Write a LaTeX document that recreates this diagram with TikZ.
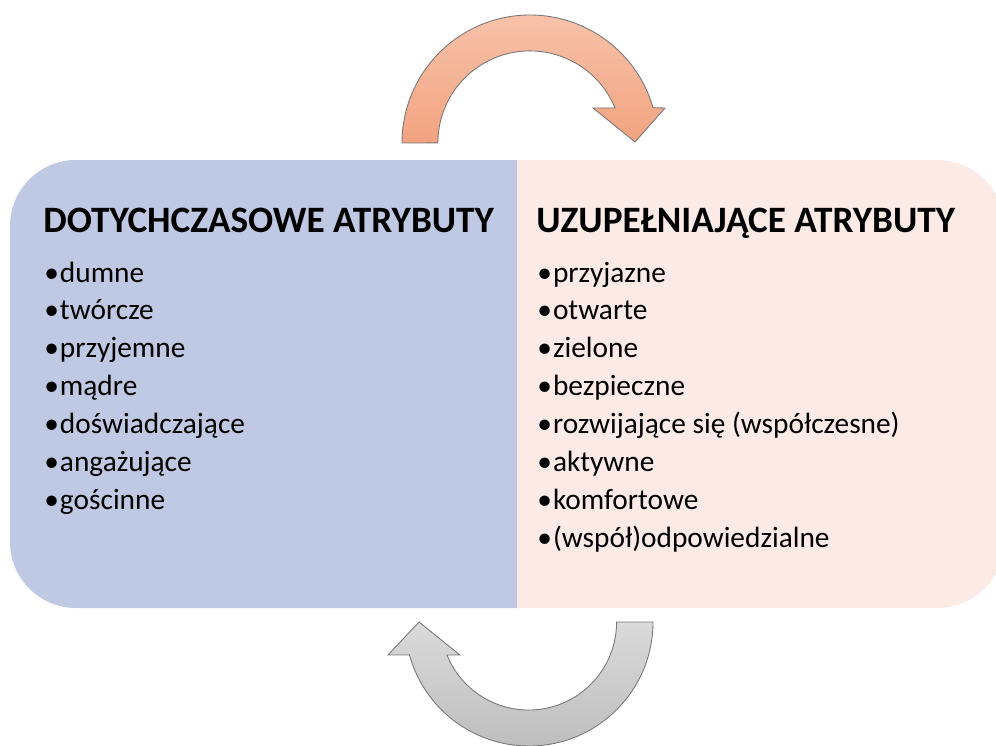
\documentclass[tikz,border=0pt]{standalone}
\usepackage{fontspec}
\setmainfont{Carlito}
\usetikzlibrary{positioning}
\definecolor{leftfill}{RGB}{191,201,228}
\definecolor{rightfill}{RGB}{251,234,230}
\definecolor{arrowtop}{RGB}{247,194,170}
\definecolor{arrowbot}{RGB}{242,163,128}
\definecolor{greytop}{RGB}{218,218,218}
\definecolor{greybot}{RGB}{190,190,190}
\definecolor{edgegrey}{RGB}{120,120,120}

\newcommand{\bul}{•\kern0.6pt}

\tikzset{
    heading/.style={anchor=base west, inner sep=0pt, font=\fontsize{21.2}{24}\selectfont\bfseries},
    item/.style={anchor=base west, inner sep=0pt, font=\fontsize{16.7}{19}\selectfont},
    loop arrow/.style={draw=edgegrey, line width=0.5pt}
}

\begin{document}
\begin{tikzpicture}[x=0.02cm, y=0.02cm]
    \useasboundingbox (0,0) rectangle (996,745);
    \clip (0,0) rectangle (996,745);

    % the two halves
    \fill[leftfill] (517,585) -- (76,585) arc[start angle=90, end angle=180, radius=66]
        -- (10,203) arc[start angle=180, end angle=270, radius=66] -- (517,137) -- cycle;
    \fill[rightfill] (517,585) -- (937,585) arc[start angle=90, end angle=0, radius=68]
        -- (1005,205) arc[start angle=0, end angle=-90, radius=68] -- (517,137) -- cycle;

    % top arrow
    \shade[loop arrow, top color=arrowtop, bottom color=arrowbot]
        (402,602) arc[start angle=180, end angle=16, radius=128]
        -- (665,637) -- (635,603) -- (593,637) -- (615,637)
        arc[start angle=22.3, end angle=180, radius=92] -- cycle;

    % bottom arrow
    \shade[loop arrow, top color=greytop, bottom color=greybot]
        (653,123) arc[start angle=0, end angle=-164.6, radius=124]
        -- (388,90) -- (419,123) -- (460,90) -- (447,90)
        arc[start angle=-158, end angle=0, radius=88] -- cycle;

    \node[heading] (lefttitle) at (43,513) {DOTYCHCZASOWE ATRYBUTY};
    \node[heading] (righttitle) at (536,513) {UZUPEŁNIAJĄCE ATRYBUTY};

    \foreach \t [count=\i] in {dumne, twórcze, przyjemne, mądre, doświadczające, angażujące, gościnne}
        \node[item] (left\i) at (44, 463-37.9*\i+37.9) {\bul\t};

    \foreach \t [count=\i] in {przyjazne, otwarte, zielone, bezpieczne, {rozwijające się (współczesne)}, aktywne, komfortowe, {(współ)odpowiedzialne}}
        \node[item] (right\i) at (537, 463-37.9*\i+37.9) {\bul\t};
\end{tikzpicture}
\end{document}
